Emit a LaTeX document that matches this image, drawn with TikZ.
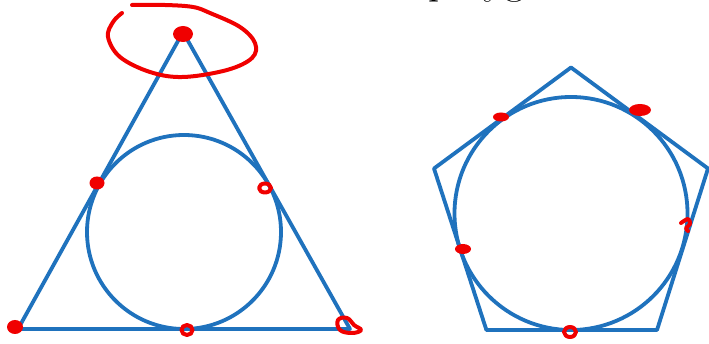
\documentclass[tikz,border=0pt]{standalone}
\usetikzlibrary{calc}
\definecolor{lineblue}{RGB}{31,114,189}
\definecolor{penred}{RGB}{240,0,0}
\begin{document}
\begin{tikzpicture}[x=1pt,y=-1pt,
  outline/.style={draw=lineblue,line width=3.8pt,line join=round},
  pen/.style={draw=penred,line width=4pt,line cap=round,line join=round},
  blob/.style={fill=penred}]
\useasboundingbox (0,0) rectangle (709,344);
\begin{scope}
\clip (0,0) rectangle (709,344);
\node[anchor=base west,inner sep=0pt,font=\fontsize{44}{50}\selectfont] (title) at (428,-6) {polygon};
\end{scope}
% triangle
\coordinate (A) at (183,32);
\coordinate (B) at (18,329);
\coordinate (C) at (350,329);
\draw[outline] (A) -- (B) -- (C) -- cycle;
\coordinate (I1) at (184,232);
\draw[outline] (I1) circle[radius=97];
% pentagon
\coordinate (I2) at (571,213.5);
\draw[outline] (I2) circle[radius=116.5];
\draw[outline] ($(I2)+(0,-146)$) -- ($(I2)+(-137,-45)$) -- ($(I2)+(-84.6,116.5)$) -- ($(I2)+(86,116.5)$) -- ($(I2)+(137,-45)$) -- cycle;
% red annotations
\draw[pen] plot[smooth,tension=0.6] coordinates {(132,5) (165,5) (193,7) (210,13) (240,27) (255,43) (252,58) (227,70) (183,77) (150,72) (120,57) (108,37) (113,22) (122,13)};
\fill[blob] (183,34) ellipse[x radius=10,y radius=8];
\fill[blob] (15,327) ellipse[x radius=8,y radius=7];
\draw[pen] plot[smooth cycle,tension=0.7] coordinates {(338,320) (347,318) (354,325) (361,330) (352,333) (340,330)};
\draw[pen] (187,330) ellipse[x radius=5.5,y radius=5];
\fill[blob] (97,183) ellipse[x radius=7.5,y radius=6.5];
\draw[pen] (265,188) ellipse[x radius=6,y radius=4.5];
\fill[blob] (501,117) ellipse[x radius=8,y radius=4.5];
\fill[blob] (640,110) ellipse[x radius=11,y radius=6];
\fill[blob] (463,249) ellipse[x radius=8,y radius=5];
\draw[pen] plot[smooth,tension=0.6] coordinates {(681,223) (688,219) (690,224) (686,228) (688,231)};
\draw[pen] (570,332) ellipse[x radius=6,y radius=5];
\end{tikzpicture}
\end{document}
